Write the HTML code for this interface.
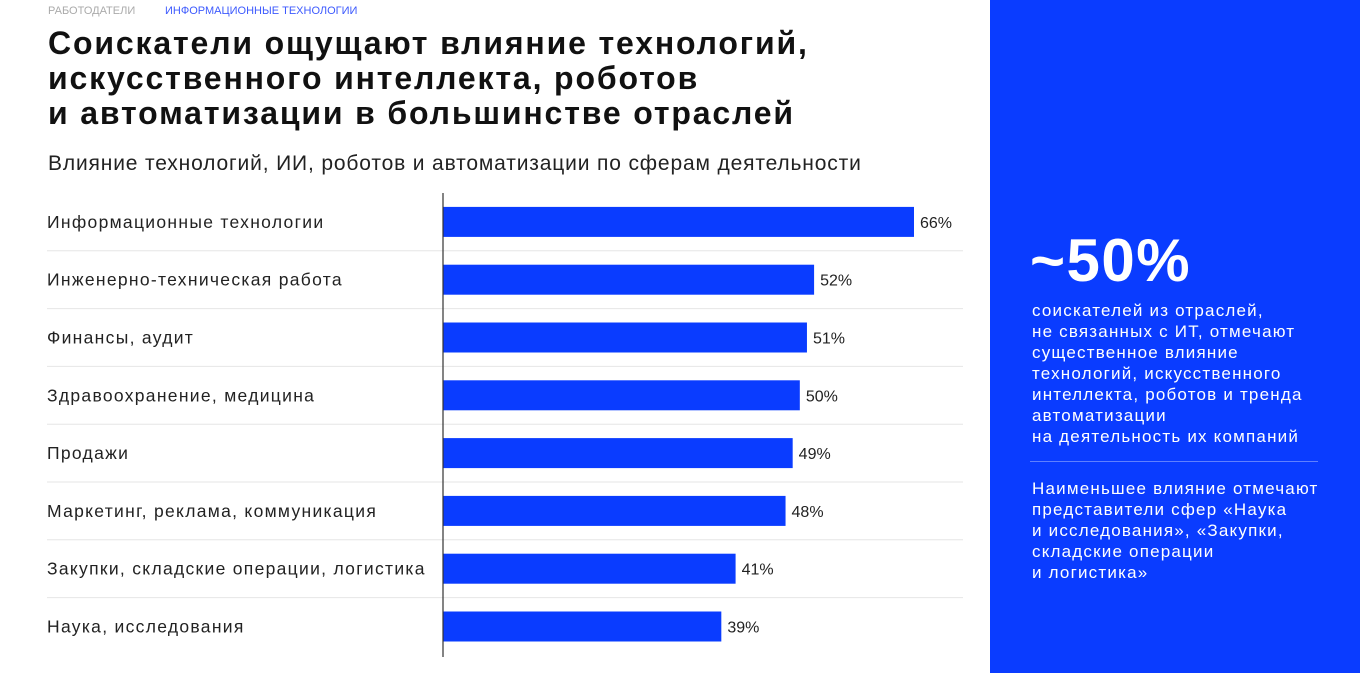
<!DOCTYPE html>
<html><head><meta charset="utf-8"><style>
*{margin:0;padding:0;box-sizing:border-box}
body{width:1360px;height:673px;overflow:hidden;background:#fff;font-family:"Liberation Sans",sans-serif;position:relative}
.a{position:absolute;white-space:nowrap}
#panel{position:absolute;left:990px;top:0;width:370px;height:673px;background:#0a3cff}
.pt{position:absolute;left:42px;color:#fff;font-size:17px;line-height:21px;letter-spacing:1.2px;white-space:nowrap}
</style></head><body>
<div class="a" style="left:48px;top:5px;font-size:11px;color:#aaa">РАБОТОДАТЕЛИ</div>
<div class="a" style="left:165px;top:5px;font-size:11px;color:#3d5afe">ИНФОРМАЦИОННЫЕ ТЕХНОЛОГИИ</div>
<div class="a" style="left:48px;top:26px;font-size:32px;line-height:35px;font-weight:bold;color:#111;letter-spacing:1.85px">Соискатели ощущают влияние технологий,<br>искусственного интеллекта, роботов<br>и автоматизации в большинстве отраслей</div>
<div class="a" style="left:48px;top:152px;font-size:21px;color:#222;letter-spacing:0.85px">Влияние технологий, ИИ, роботов и автоматизации по сферам деятельности</div>
<svg id="chart" width="990" height="673" style="position:absolute;left:0;top:0"></svg>
<div id="panel">
<div class="a" style="left:40px;top:226px;font-size:60px;font-weight:bold;color:#fff;letter-spacing:1.5px">~50%</div>
<div class="pt" style="top:300px">соискателей из отраслей,<br>не связанных с ИТ, отмечают<br>существенное влияние<br>технологий, искусственного<br>интеллекта, роботов и тренда<br>автоматизации<br>на деятельность их компаний</div>
<div style="position:absolute;left:40px;top:461px;width:288px;height:1px;background:rgba(255,255,255,0.35)"></div>
<div class="pt" style="top:478px">Наименьшее влияние отмечают<br>представители сфер «Наука<br>и исследования», «Закупки,<br>складские операции<br>и логистика»</div>
</div>
<script>
const categories=["Информационные технологии","Инженерно-техническая работа","Финансы, аудит","Здравоохранение, медицина","Продажи","Маркетинг, реклама, коммуникация","Закупки, складские операции, логистика","Наука, исследования"];
const values=[66,52,51,50,49,48,41,39];
const valueLabels=["66%","52%","51%","50%","49%","48%","41%","39%"];
const svg=document.getElementById('chart');const NS='http://www.w3.org/2000/svg';
const x0=443,scale=471/66,top0=193,rowH=57.8,barH=30;
const xs=v=>x0+v*scale, yc=i=>top0+rowH*i+rowH/2;
function mk(t,a){const e=document.createElementNS(NS,t);for(const k in a)e.setAttribute(k,a[k]);svg.appendChild(e);return e;}
categories.forEach((c,i)=>{
 if(i<categories.length-1){const l=mk('line',{x1:47,x2:963,y1:yc(i)+rowH/2,y2:yc(i)+rowH/2,stroke:'#e6e6e6','stroke-width':1});
 
 }
 const t=mk('text',{x:47,y:yc(i)+6,'font-size':17.5,fill:'#222','font-family':'Liberation Sans, sans-serif','letter-spacing':1.3});t.textContent=c;
 
 
 const b=mk('rect',{x:x0,y:yc(i)-barH/2,width:xs(values[i])-x0,height:barH,fill:'#0a3cff'});
 
 
 const v=mk('text',{x:xs(values[i])+6,y:yc(i)+6,'font-size':16,fill:'#222','font-family':'Liberation Sans, sans-serif'});v.textContent=valueLabels[i];
 
 
});
const ax=mk('line',{x1:x0,x2:x0,y1:193,y2:657,stroke:'#333','stroke-width':1.2});


</script>
</body></html>
